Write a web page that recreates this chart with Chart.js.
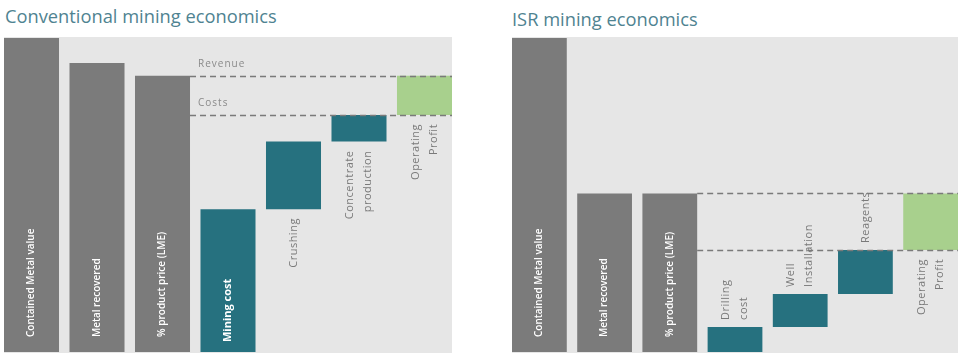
<!DOCTYPE html>
<html>
<head>
<meta charset="utf-8">
<script src="https://cdn.jsdelivr.net/npm/chart.js@4/dist/chart.umd.min.js"></script>
<style>
  html, body { margin: 0; padding: 0; background: #ffffff; }
  #wrap { position: relative; width: 960px; height: 358px; overflow: hidden; }
  .title { position: absolute; font-family: "Open Sans", sans-serif; font-size: 18.3px; color: #4f8391; white-space: nowrap; }
  canvas { position: absolute; top: 0; }
</style>
</head>
<body>
<div id="wrap">
  <div class="title" id="t1" style="left:5px; top:3px;"></div>
  <div class="title" id="t2" style="left:512px; top:6px;"></div>
  <canvas id="c1" width="480" height="358" style="left:0px; width:480px; height:358px;"></canvas>
  <canvas id="c2" width="480" height="358" style="left:480px; width:480px; height:358px;"></canvas>
</div>
<script>
// ---------- DATA ----------
const convTitle = "Conventional mining economics";
const convCategories = ["Contained Metal value", "Metal recovered", "% product price (LME)", "Mining cost", "Crushing", "Concentrate\nproduction", "Operating\nProfit"];
const convStart = [0, 0, 0, 0, 45.5, 67, 75.5];
const convEnd = [100, 92, 88, 45.5, 67, 75.5, 88];
const convRevenueLevel = 88;
const convCostsLevel = 75.5;
const convLineLabels = ["Revenue", "Costs"];

const isrTitle = "ISR mining economics";
const isrCategories = ["Contained Metal value", "Metal recovered", "% product price (LME)", "Drilling\ncost", "Well\nInstallation", "Reagents", "Operating\nProfit"];
const isrStart = [0, 0, 0, 0, 8, 18.5, 32.5];
const isrEnd = [100, 50.5, 50.5, 8, 18.5, 32.5, 50.5];
const isrRevenueLevel = 50.5;
const isrCostsLevel = 32.5;

// ---------- STYLE ----------
const GRAY = "#7b7b7b", TEAL = "#26717f", GREEN = "#a8d08d", BG = "#e6e6e6";
const barColors = [GRAY, GRAY, GRAY, TEAL, TEAL, TEAL, GREEN];
const convLabelMode = ["inside", "inside", "inside", "insideBold", "below", "below", "below"];
const isrLabelMode = ["inside", "inside", "inside", "above", "above", "above", "below"];

document.getElementById("t1").textContent = convTitle;
document.getElementById("t2").textContent = isrTitle;

function makePlugin(revenue, costs, lineLabels, modes, categories) {
  return {
    id: "waterfallDecor",
    beforeDatasetsDraw(chart) {
      const ctx = chart.ctx, a = chart.chartArea;
      ctx.save();
      ctx.fillStyle = BG;
      ctx.fillRect(a.left, a.top - 1, a.right - a.left, a.bottom - a.top + 2);
      ctx.restore();
    },
    afterDatasetsDraw(chart) {
      const ctx = chart.ctx, a = chart.chartArea;
      const ys = chart.scales.y;
      const meta = chart.getDatasetMeta(0);
      const bar3 = meta.data[2];
      const x0 = bar3.x + bar3.width / 2;
      // dashed lines
      ctx.save();
      ctx.strokeStyle = "#7a7a7a";
      ctx.lineWidth = 1.5;
      ctx.setLineDash([6, 4]);
      [revenue, costs].forEach(v => {
        const y = Math.round(ys.getPixelForValue(v)) + 0.5;
        ctx.beginPath();
        ctx.moveTo(x0, y);
        ctx.lineTo(a.right, y);
        ctx.stroke();
      });
      ctx.restore();
      // line labels
      if (lineLabels) {
        ctx.save();
        ctx.fillStyle = "#8a8a8a";
        ctx.font = "10px 'Open Sans', sans-serif";
        try { ctx.letterSpacing = "1px"; } catch (e) {}
        ctx.textAlign = "left";
        ctx.textBaseline = "alphabetic";
        ctx.fillText(lineLabels[0], x0 + 8, ys.getPixelForValue(revenue) - 9);
        ctx.fillText(lineLabels[1], x0 + 8, ys.getPixelForValue(costs) - 9);
        ctx.restore();
      }
      // bar labels
      meta.data.forEach((el, i) => {
        const top = Math.min(el.y, el.base), bottom = Math.max(el.y, el.base);
        const lines = categories[i].split("\n");
        const mode = modes[i];
        ctx.save();
        let ax, ay, align;
        if (mode === "inside" || mode === "insideBold") {
          ctx.fillStyle = "#ffffff";
          ctx.font = (mode === "insideBold" ? "bold 11px" : "600 10px") + " 'Open Sans', sans-serif";
          ax = el.x; ay = bottom - (mode === "insideBold" ? 10 : 15); align = "left";
        } else if (mode === "below") {
          ctx.fillStyle = "#7a7a7a";
          ctx.font = "11px 'Open Sans', sans-serif";
          try { ctx.letterSpacing = "0.5px"; } catch (e) {}
          ax = el.x; ay = bottom + 9; align = "right";
        } else {
          ctx.fillStyle = "#7a7a7a";
          ctx.font = "11px 'Open Sans', sans-serif";
          try { ctx.letterSpacing = "0.5px"; } catch (e) {}
          ax = el.x; ay = top - 7; align = "left";
        }
        ctx.translate(ax, ay);
        ctx.rotate(-Math.PI / 2);
        ctx.textAlign = align;
        ctx.textBaseline = "middle";
        const lh = 18;
        lines.forEach((ln, k) => {
          const off = (k - (lines.length - 1) / 2) * lh;
          ctx.fillText(ln, 0, off);
        });
        ctx.restore();
      });
    }
  };
}

function makeChart(id, categories, starts, ends, revenue, costs, lineLabels, modes, padding) {
  const data = categories.map((c, i) => ({ x: i, y: [starts[i], ends[i]] }));
  return new Chart(document.getElementById(id), {
    type: "bar",
    data: {
      datasets: [{
        data: data,
        backgroundColor: barColors,
        borderWidth: 0,
        categoryPercentage: 1.0,
        barPercentage: 0.84
      }]
    },
    options: {
      responsive: false,
      animation: false,
      layout: { padding: padding },
      plugins: { legend: { display: false }, tooltip: { enabled: false }, title: { display: false } },
      scales: {
        x: { type: "linear", offset: false, min: -0.42, max: categories.length - 1 + 0.42, display: false },
        y: { min: 0, max: 100, display: false }
      }
    },
    plugins: [makePlugin(revenue, costs, lineLabels, modes, categories)]
  });
}

makeChart("c1", convCategories, convStart, convEnd, convRevenueLevel, convCostsLevel, convLineLabels, convLabelMode,
  { left: 4, right: 28, top: 38, bottom: 6 });
makeChart("c2", isrCategories, isrStart, isrEnd, isrRevenueLevel, isrCostsLevel, null, isrLabelMode,
  { left: 32, right: 2, top: 38, bottom: 6 });
</script>
</body>
</html>
